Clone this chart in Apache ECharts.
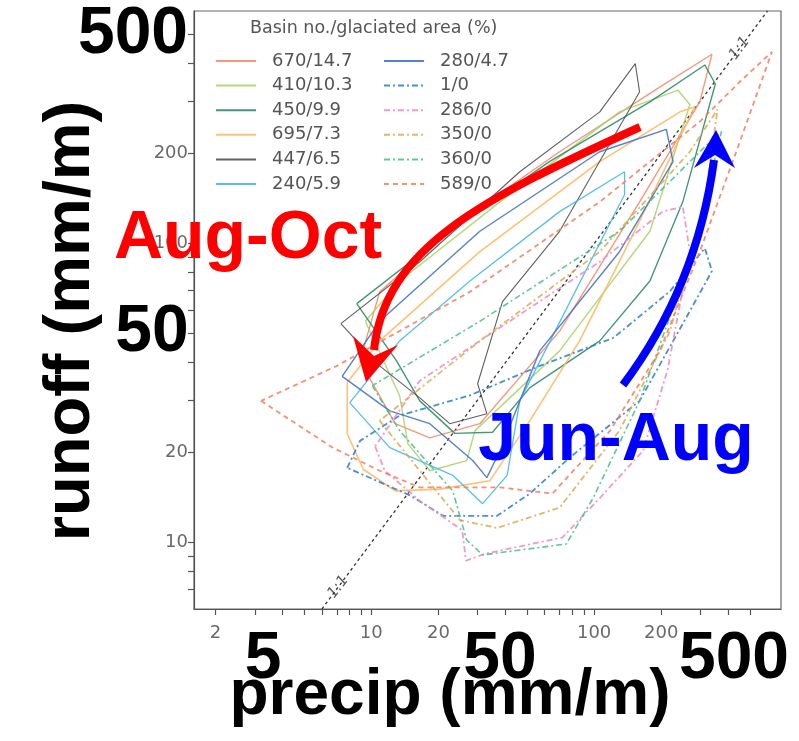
<!DOCTYPE html>
<html><head><meta charset="utf-8">
<script src="https://cdn.jsdelivr.net/npm/echarts@6/dist/echarts.min.js"></script>
<style>html,body{margin:0;padding:0;background:#fff}#c{width:799px;height:741px}</style>
</head><body><div id="c"></div>
<script>
// ---- data (monthly precip vs runoff, mm/month) ----
const names = ['670/14.7','410/10.3','450/9.9','695/7.3','447/6.5','240/5.9','280/4.7','1/0','286/0','350/0','360/0','589/0'];
const p670 = [12.8,18.3,30.7,70,160,298,338,197,70,25,10.9,8.9];
const r670 = [25,22.4,25,51,138,298,430,334,203,119,69,40.5];
const p410 = [9.4,13.4,14.6,18.3,26.8,29.2,70,178,269,238,130,37.8,13.4];
const r410 = [55,31,21.4,17.4,18.8,23.7,43.8,110,292,326,276,138,75];
const p450 = [8.6,13,16.5,23.7,35,51.5,106,178,250,350,314,178,63,22.5];
const r450 = [63,40.5,29.8,23.2,23.4,33,47.3,75,138,342,396,298,188,110];
const p695 = [7.8,7.8,9.2,12.8,20.3,34,51.5,86,160,283,243,106,30.7,10.9];
const r695 = [34.3,23.1,17.6,14.9,15.1,16.1,25.6,47.3,119,287,276,188,94,47.3];
const p447 = [7.3,10.9,16.5,22.5,33,30,38.8,70,160,153,106,46.4,16.5];
const r447 = [54,39,30.5,25,27,34,64,110,322,400,276,174,87];
const p240 = [8,12.1,23.2,31.6,40.7,46.4,78,137,137,70,27.7,13.4];
const r240 = [29.4,20.8,16.8,13.5,16.8,29.8,64,146,174,128,75,47.3];
const p280 = [7.4,12.1,18.3,28.6,33,37.8,57,130,226,211,106,30.7,10.9];
const r280 = [36,27.6,25,18.8,16.5,20.3,43.8,94,188,241,203,110,55];
const p1 = [7.8,8.9,13.4,27.7,57,122,219,314,338,269,160,78,51.5,36.7,21,14.9];
const r1 = [17.8,21.9,26.6,31.1,39,48.4,69.3,96.6,81,59.5,29.8,19.3,14.6,12.3,12.3,14.4];
const p286 = [10.4,11.5,16.5,25.6,26.6,32.7,72,106,166,214,269,250,203,106,30.7,16.5];
const r286 = [21,17.4,13.8,11,8.7,9.2,10.4,14.1,20.3,38,94,133,128,87,47.3,34.8];
const p350 = [10.9,16.5,25,36.7,70,130,219,314,358,269,106,30.7];
const r350 = [25.6,17.4,11.9,11.2,13.1,23.7,51,138,281,203,94,47.3];
const p360 = [10.1,13.4,23.2,26.8,31.6,75,99,160,269,373,331,130,30.7];
const r360 = [33.5,23.7,14.9,10.2,9.1,9.9,14.1,29.8,87,237,219,110,55];
const p589 = [3.2,6.7,10.9,16.5,37.8,65,118,197,298,451,628,451,298,106,27.7,7];
const r589 = [29.8,20.8,17.4,15.3,15.3,14.6,23.7,43.8,94,219,438,348,256,138,69,39];
const oneToOne = [6, 600];
const oneToOneLabelPts = [7.9, 500];
const xTicks = [2,3,4,5,6,7,8,9,10,20,30,40,50,60,70,80,90,100,200,300,400,500];
const xLabels = [2,10,20,100,200];
const yTicks = [7,8,9,10,20,30,40,50,60,70,80,90,100,200,300,400,500];
const yLabels = [10,20,100,200];

// ---- styling ----
const styles = [
  {c:'#f58a6b', w:1.4, t:'solid'},
  {c:'#a9d36a', w:1.4, t:'solid'},
  {c:'#2a8a63', w:1.4, t:'solid'},
  {c:'#ffb861', w:1.6, t:'solid'},
  {c:'#4a4a4a', w:1.1, t:'solid'},
  {c:'#40b6ea', w:1.3, t:'solid'},
  {c:'#3d6fc6', w:1.4, t:'solid'},
  {c:'#2f7fd6', w:1.8, t:[6,3,2,3]},
  {c:'#f08cbf', w:1.8, t:[6,3,2,3]},
  {c:'#dcae58', w:1.8, t:[6,3,2,3]},
  {c:'#45c088', w:1.6, t:[6,3,2,3]},
  {c:'#f58060', w:1.8, t:[5,4]}
];
const P = [p670,p410,p450,p695,p447,p240,p280,p1,p286,p350,p360,p589];
const R = [r670,r410,r450,r695,r447,r240,r280,r1,r286,r350,r360,r589];
function loop(p, r){ const d = p.map((v,i)=>[v, r[i]]); d.push(d[0]); return d; }

const series = names.map((n,i)=>({
  name:n, type:'line', symbol:'none', data:loop(P[i],R[i]), z:3,
  lineStyle:{color:styles[i].c, width:styles[i].w, type:styles[i].t, opacity:0.88},
  itemStyle:{color:styles[i].c}, silent:true
}));
series.push({
  name:'1:1', type:'line', symbol:'none', data:[[oneToOne[0],oneToOne[0]],[oneToOne[1],oneToOne[1]]], z:2,
  lineStyle:{color:'#333', width:1.3, type:[3,3]}, silent:true
});
series.push({
  name:'1:1 label', type:'scatter', symbolSize:0, data:oneToOneLabelPts.map(v=>[v,v]), z:4,
  label:{show:true, formatter:'1:1', rotate:53, offset:[-17,0], color:'#333', fontSize:15, fontFamily:'DejaVu Sans', fontStyle:'italic', position:'inside'},
  silent:true
});

const legendText = {fontSize:18, color:'#555', fontFamily:'DejaVu Sans', padding:[0,0,0,11]};
const bigFont = 'bold 66px "Liberation Sans", Arial, sans-serif';
const legendCommon = {orient:'vertical', top:47, itemWidth:40, itemHeight:14, itemGap:6.6,
  textStyle:legendText, selectedMode:false, itemStyle:{opacity:0}, lineStyle:{width:2}};

const chart = echarts.init(document.getElementById('c'), null, {renderer:'canvas'});
chart.setOption({
  animation:false,
  backgroundColor:'#fff',
  grid:{left:194, top:11, right:18, bottom:132, show:true, borderColor:'#666', borderWidth:1.2, backgroundColor:'transparent'},
  xAxis:{type:'log', logBase:10, min:1.6, max:690,
    axisLine:{show:true, lineStyle:{color:'#555', width:1.2}},
    axisTick:{show:true, length:6, customValues:xTicks, lineStyle:{color:'#555', width:1.2}},
    axisLabel:{customValues:xLabels, color:'#6a6a6a', fontSize:18, margin:15, fontFamily:'DejaVu Sans'},
    splitLine:{show:false}},
  yAxis:{type:'log', logBase:10, min:6, max:600,
    axisLine:{show:true, lineStyle:{color:'#555', width:1.2}},
    axisTick:{show:true, length:6, customValues:yTicks, lineStyle:{color:'#555', width:1.2}},
    axisLabel:{customValues:yLabels, color:'#6a6a6a', fontSize:18, margin:6, fontFamily:'DejaVu Sans'},
    splitLine:{show:false}},
  legend:[
    Object.assign({data:names.slice(0,6), left:210}, legendCommon),
    Object.assign({data:names.slice(6), left:378}, legendCommon)
  ],
  series:series,
  graphic:[
    {type:'text', x:250, y:28, z:50, style:{text:'Basin no./glaciated area (%)', font:'17.5px "DejaVu Sans"', fill:'#555', textAlign:'left', textVerticalAlign:'middle'}},
    // red arrow
    {type:'bezierCurve', z:60, shape:{x1:640,y1:127,cpx1:480,cpy1:200,cpx2:385,cpy2:248,x2:374,y2:350}, style:{stroke:'#ff0000', lineWidth:8, fill:null}},
    {type:'polygon', z:60, shape:{points:[[366,382],[353,336],[374,356],[398,345]]}, style:{fill:'#ff0000'}},
    // blue arrow
    {type:'bezierCurve', z:60, shape:{x1:623,y1:385,cpx1:668,cpy1:325,cpx2:702,cpy2:250,x2:714,y2:160}, style:{stroke:'#0000ff', lineWidth:8, fill:null}},
    {type:'polygon', z:60, shape:{points:[[716,130],[694,168],[715,155],[735,168]]}, style:{fill:'#0000ff'}},
    // big annotation texts
    {type:'text', x:248, y:239, z:70, style:{text:'Aug-Oct', font:'bold 68px "Liberation Sans", Arial, sans-serif', fill:'#ff0000', textAlign:'center', textVerticalAlign:'middle'}},
    {type:'text', x:616, y:441, z:70, style:{text:'Jun-Aug', font:'bold 68px "Liberation Sans", Arial, sans-serif', fill:'#0000ff', textAlign:'center', textVerticalAlign:'middle'}},
    {type:'text', x:133, y:35, z:70, style:{text:'500', font:bigFont, fill:'#000', textAlign:'center', textVerticalAlign:'middle'}},
    {type:'text', x:152, y:333, z:70, style:{text:'50', font:bigFont, fill:'#000', textAlign:'center', textVerticalAlign:'middle'}},
    {type:'text', x:263, y:660, z:70, style:{text:'5', font:bigFont, fill:'#000', textAlign:'center', textVerticalAlign:'middle'}},
    {type:'text', x:500, y:660, z:70, style:{text:'50', font:bigFont, fill:'#000', textAlign:'center', textVerticalAlign:'middle'}},
    {type:'text', x:734, y:660, z:70, style:{text:'500', font:bigFont, fill:'#000', textAlign:'center', textVerticalAlign:'middle'}},
    {type:'text', x:450, y:696, z:70, style:{text:'precip (mm/m)', font:'bold 64px "Liberation Sans", Arial, sans-serif', fill:'#000', textAlign:'center', textVerticalAlign:'middle'}},
    {type:'text', x:71, y:321, rotation:Math.PI/2, z:70, style:{text:'runoff (mm/m)', font:'bold 65px "Liberation Sans", Arial, sans-serif', fill:'#000', textAlign:'center', textVerticalAlign:'middle'}}
  ]
});
</script></body></html>
